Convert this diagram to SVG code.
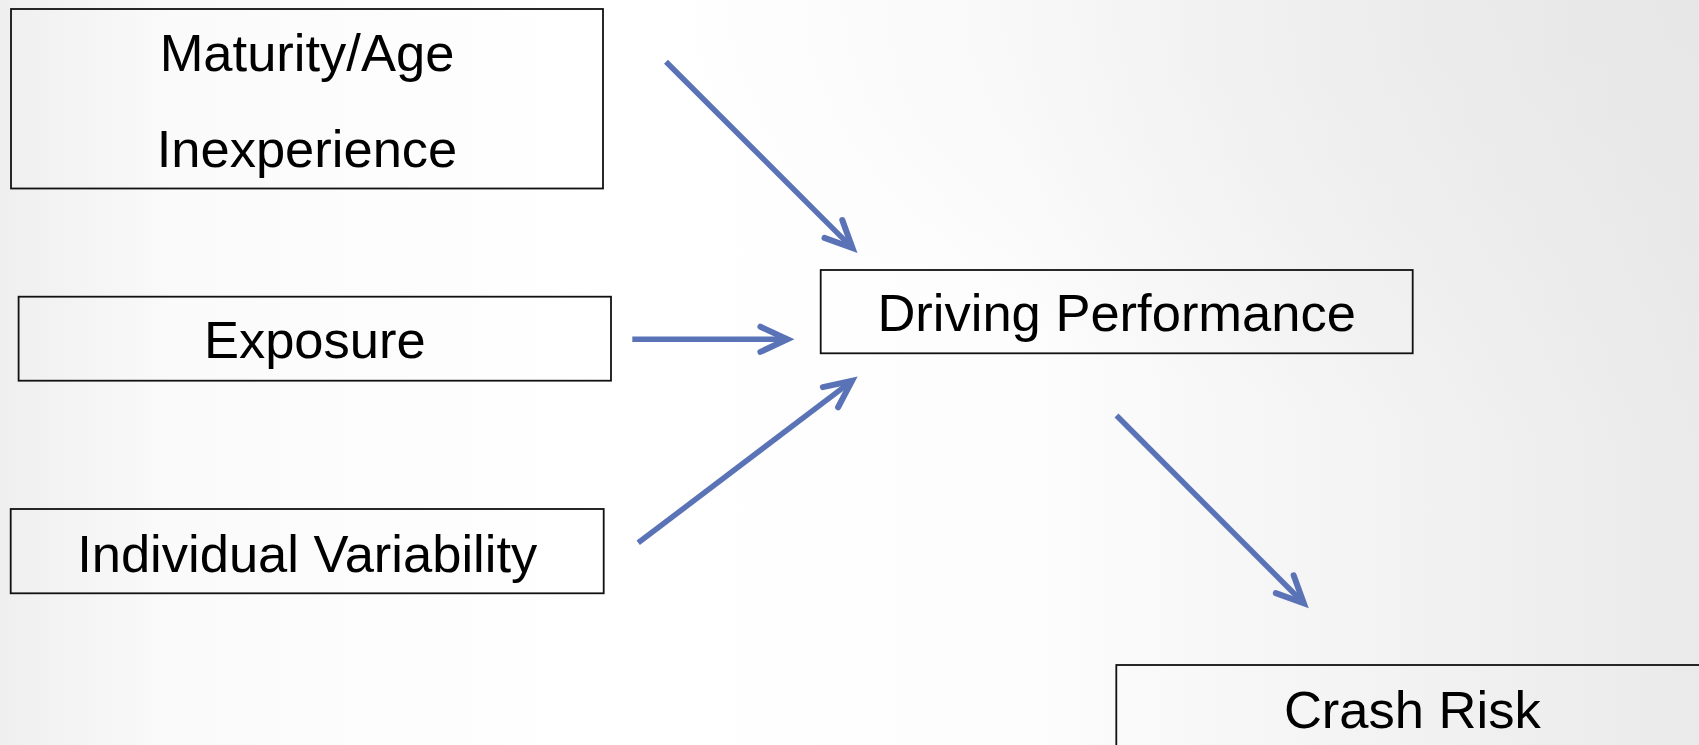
<svg xmlns="http://www.w3.org/2000/svg" width="1699" height="745" viewBox="0 0 1699 745">
  <style>
    .box { fill: none; stroke: #111111; stroke-width: 1.8; }
    .label { font-family: "Liberation Sans", Arial, sans-serif; font-size: 52.5px; fill: #000000; text-anchor: middle; }
    .link { stroke: #5a73b7; stroke-width: 5.5; stroke-linecap: butt; fill: none; marker-end: url(#head); }
  </style>
  <defs>
    <!-- soft slide background: white in the middle, light grey towards the sides -->
    <linearGradient id="bg" x1="0" y1="0" x2="1" y2="0">
      <stop offset="0" stop-color="#efefef"/>
      <stop offset="0.1" stop-color="#fafafa"/>
      <stop offset="0.35" stop-color="#ffffff"/>
      <stop offset="0.6" stop-color="#fdfdfd"/>
      <stop offset="1" stop-color="#eaeaea"/>
    </linearGradient>
    <radialGradient id="corner" cx="1" cy="0" r="0.6">
      <stop offset="0" stop-color="#e4e4e4" stop-opacity="0.6"/>
      <stop offset="1" stop-color="#e4e4e4" stop-opacity="0"/>
    </radialGradient>
    <!-- open chevron arrowhead, tip at the path end -->
    <marker id="head" viewBox="-40 -20 50 40" markerWidth="50" markerHeight="40" refX="0" refY="0" orient="auto" markerUnits="userSpaceOnUse">
      <path d="M -27 -12.6 L 0 0 L -27 12.6" fill="none" stroke="#5a73b7" stroke-width="6" stroke-linecap="round" stroke-linejoin="miter" stroke-miterlimit="4"/>
    </marker>
  </defs>

  <rect x="0" y="0" width="1699" height="745" fill="url(#bg)"/>
  <rect x="0" y="0" width="1699" height="745" fill="url(#corner)"/>

  <g id="connectors">
    <line class="link" x1="666" y1="61.7" x2="852.5" y2="248.1"/>
    <line class="link" x1="632.3" y1="339.3" x2="787.4" y2="339.3"/>
    <line class="link" x1="638.2" y1="542.8" x2="852" y2="380.9"/>
    <line class="link" x1="1116.5" y1="415.5" x2="1303.8" y2="603.3"/>
  </g>

  <g id="node-maturity">
    <rect class="box" x="11" y="9" width="592" height="179.5"/>
    <text class="label" x="307" y="70.7">Maturity/Age</text>
    <text class="label" x="307" y="166.7">Inexperience</text>
  </g>

  <g id="node-exposure">
    <rect class="box" x="18.6" y="296.7" width="592.4" height="84"/>
    <text class="label" x="314.8" y="358.3">Exposure</text>
  </g>

  <g id="node-variability">
    <rect class="box" x="10.7" y="509" width="593" height="84.3"/>
    <text class="label" x="307.2" y="571.7">Individual Variability</text>
  </g>

  <g id="node-performance">
    <rect class="box" x="820.7" y="270" width="592" height="83.3"/>
    <text class="label" x="1116.7" y="331">Driving Performance</text>
  </g>

  <g id="node-crash">
    <rect class="box" x="1116.3" y="665" width="592" height="84"/>
    <text class="label" x="1412.3" y="727.5">Crash Risk</text>
  </g>
</svg>
